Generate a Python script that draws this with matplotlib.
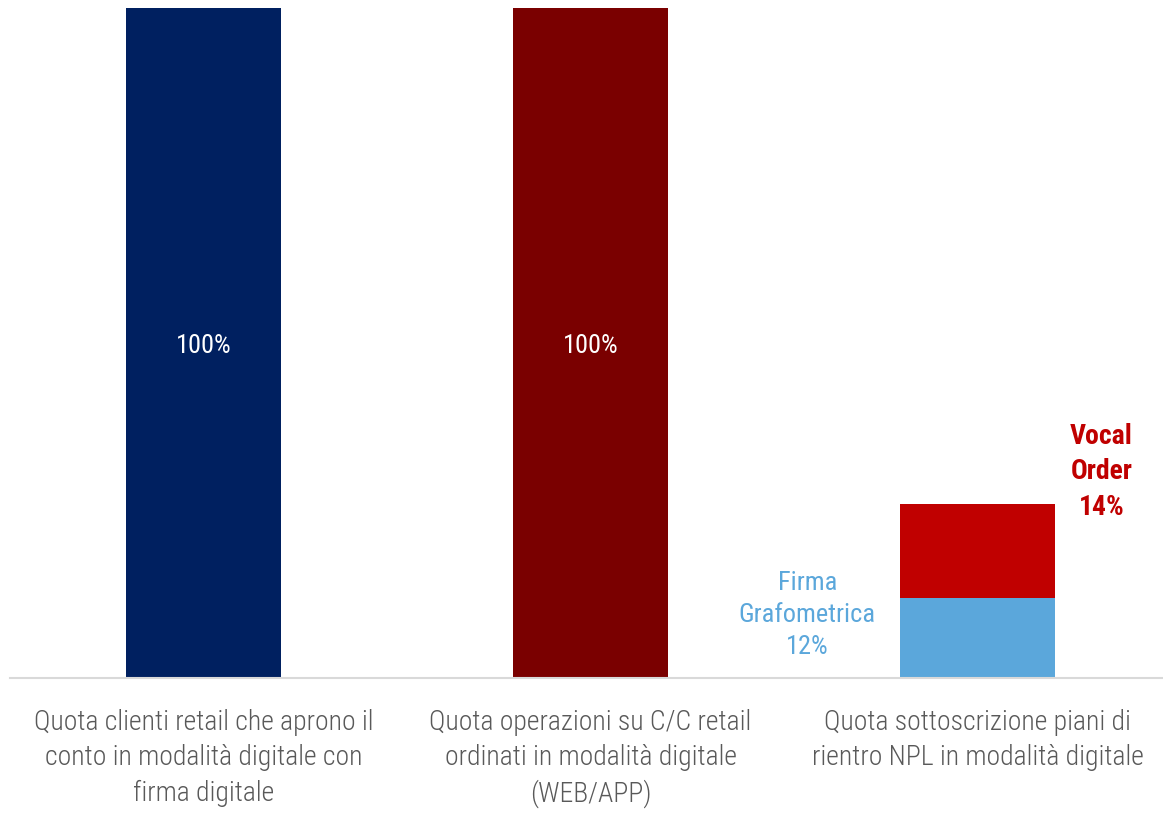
import matplotlib.pyplot as plt

plt.rcParams['font.family'] = ['Roboto Condensed', 'Liberation Sans Narrow', 'Roboto', 'DejaVu Sans']

categorie = [
    "Quota clienti retail che aprono il\nconto in modalità digitale con\nfirma digitale",
    "Quota operazioni su C/C retail\nordinati in modalità digitale\n(WEB/APP)",
    "Quota sottoscrizione piani di\nrientro NPL in modalità digitale",
]
digitale = [100, 100, 0]          # barre piene
firma_grafometrica = [0, 0, 12]   # base barra 3
vocal_order = [0, 0, 14]          # sopra barra 3

col_barre = ["#002060", "#7A0000", "#5BA7DB"]
col_vocal = "#C00000"
col_testo = "#595959"

fig = plt.figure(figsize=(11.63, 8.16), dpi=100)
ax = fig.add_axes([10 / 1163, 138 / 816, 1153 / 1163, 670 / 816])

x = list(range(len(categorie)))
w = 0.4
for i in x:
    if digitale[i] > 0:
        ax.bar(i, digitale[i], width=w, color=col_barre[i])
        ax.text(i, digitale[i] * 0.495, f"{digitale[i]}%", ha="center", va="center",
                color="white", fontsize=19)
    else:
        ax.bar(i, firma_grafometrica[i], width=w, color=col_barre[i])
        ax.bar(i, vocal_order[i], bottom=firma_grafometrica[i], width=w, color=col_vocal)
        ax.text(i - 0.44, firma_grafometrica[i] - 2.6,
                f"Firma\nGrafometrica\n{firma_grafometrica[i]}%",
                ha="center", va="center", color=col_barre[i], fontsize=19, linespacing=1.4)
        ax.text(i + 0.32, firma_grafometrica[i] + vocal_order[i] + 4.8,
                f"Vocal\nOrder\n{vocal_order[i]}%",
                ha="center", va="center", color=col_vocal, fontsize=20,
                fontweight="bold", linespacing=1.4)

ax.set_xlim(-0.5, -0.5 + 1153 / 387)
ax.set_ylim(0, 100)
ax.set_xticks(x)
ax.set_xticklabels(categorie, color=col_testo, fontsize=20, fontweight="light", linespacing=1.4)
ax.tick_params(axis="x", length=0, pad=22)
ax.set_yticks([])
for s in ["top", "right", "left"]:
    ax.spines[s].set_visible(False)
ax.spines["bottom"].set_color("#D9D9D9")
ax.spines["bottom"].set_linewidth(1.5)

plt.savefig("out.png", dpi=100)
